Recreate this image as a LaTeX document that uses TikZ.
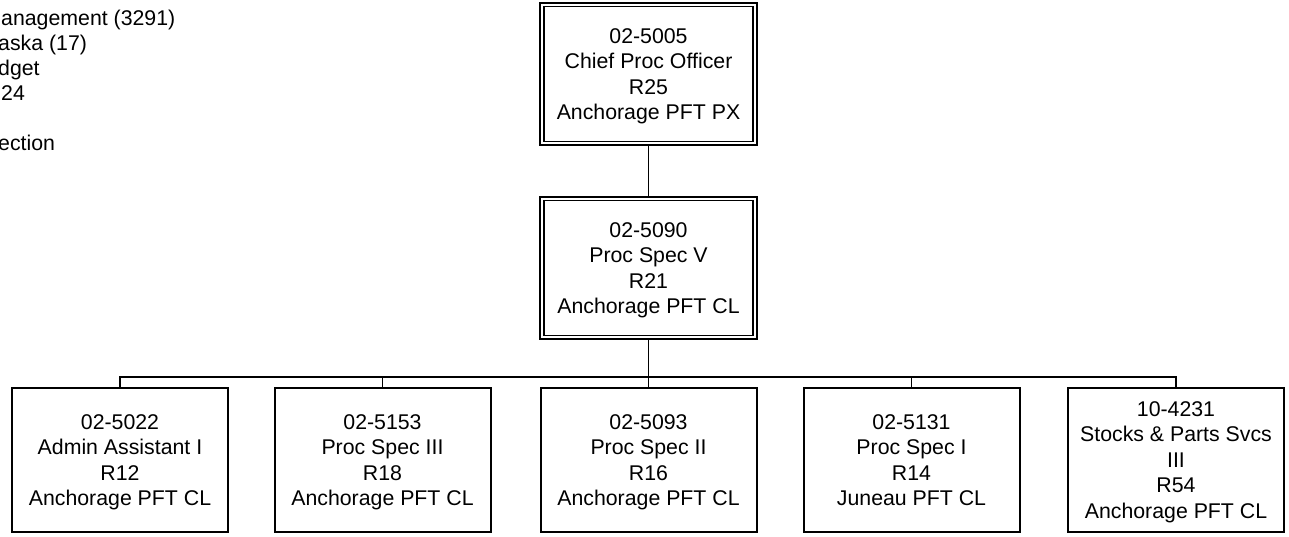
\documentclass[tikz,border=0pt]{standalone}
\usepackage{fontspec}
\setmainfont{Liberation Sans}
\begin{document}
\begin{tikzpicture}[x=1pt,y=-1pt,
  txt/.style={font=\fontsize{21.3}{25.5}\selectfont, align=center, text depth=0pt},
  dblbox/.style={txt, draw, line width=2pt, rectangle, minimum width=217pt, minimum height=142pt, inner sep=0pt},
  posbox/.style={txt, draw, line width=2pt, rectangle, minimum width=216pt, minimum height=144pt, inner sep=0pt},
  innerline/.style={line width=1.3pt},
  conn/.style={line width=1.6pt},
  sidetxt/.style={font=\fontsize{21.3}{25}\selectfont, anchor=base west, inner sep=0pt}]
\useasboundingbox[fill=white] (0,0) rectangle (1289,537);

% side text (clipped)
\node[sidetxt] (s1) at (1,26) {anagement (3291)};
\node[sidetxt] (s2) at (-2,51) {aska (17)};
\node[sidetxt] (s3) at (-2,76) {dget};
\node[sidetxt] (s4) at (1,101) {24};
\node[sidetxt] (s5) at (-2,151) {ection};

% top boxes
\node[dblbox] (top) at (648.5,74) {02-5005\\Chief Proc Officer\\R25\\Anchorage PFT PX};
\draw[innerline] ([shift={(5pt,-4.5pt)}]top.north west) rectangle ([shift={(-5pt,4.5pt)}]top.south east);

\node[dblbox] (mid) at (648.5,268) {02-5090\\Proc Spec V\\R21\\Anchorage PFT CL};
\draw[innerline] ([shift={(5pt,-4.5pt)}]mid.north west) rectangle ([shift={(-5pt,4.5pt)}]mid.south east);

% bottom boxes
\node[posbox] (b1) at (120,460) {02-5022\\Admin Assistant I\\R12\\Anchorage PFT CL};
\node[posbox] (b2) at (382.5,460) {02-5153\\Proc Spec III\\R18\\Anchorage PFT CL};
\node[posbox] (b3) at (648.5,460) {02-5093\\Proc Spec II\\R16\\Anchorage PFT CL};
\node[posbox] (b4) at (911.5,460) {02-5131\\Proc Spec I\\R14\\Juneau PFT CL};
\node[posbox] (b5) at (1176,460) {10-4231\\Stocks \& Parts Svcs\\III\\R54\\Anchorage PFT CL};

% connectors
\coordinate (bus) at (648.5,377);
\draw[conn] (top.south) -- (mid.north);
\draw[conn] (mid.south) -- (bus);
\foreach \b in {b1,b2,b3,b4,b5}{
  \draw[conn] (bus) -| (\b.north);
}
\end{tikzpicture}
\end{document}
